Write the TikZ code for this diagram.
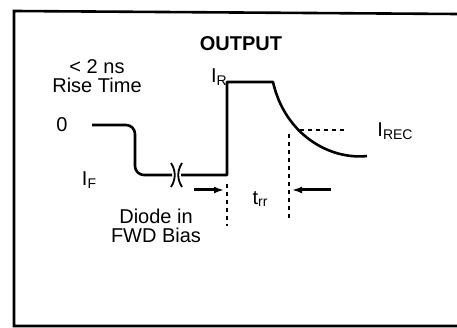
\documentclass[tikz,border=0pt]{standalone}
\usepackage{fontspec}
\setmainfont{Liberation Sans}
\usetikzlibrary{arrows.meta, positioning, calc}
\newcommand{\lbsub}[1]{\raisebox{-2.5pt}{\fontsize{14}{14}\selectfont #1}}
\tikzset{
  lbl/.style={inner sep=0pt, align=center, font=\fontsize{20}{19}\selectfont},
  titlelbl/.style={lbl, font=\fontsize{20}{20}\selectfont\bfseries},
  frameline/.style={line width=2.6pt},
  wave/.style={line width=2.6pt, line join=round},
  guide/.style={line width=2.2pt, dash pattern=on 4pt off 4pt},
  timearrow/.style={-{Latex[length=10pt,width=7pt]}, line width=3pt}
}
\begin{document}
\begin{tikzpicture}[x=1pt, y=-1pt]
  \useasboundingbox (0,0) rectangle (457,328);

  % ── Frame ──
  \draw[frameline] (457,14) -- (14,11) -- (14,326) -- (457,326);

  % ── Labels ──
  \node[titlelbl] (output) at (241,44) {OUTPUT};
  \node[lbl] (rise) at (97,76) {< 2 ns\\Rise Time};
  \node[lbl] (zero) at (62,125) {0};
  \node[lbl] (iforw) at (89,180) {I\lbsub{F}};
  \node[lbl] (irev) at (219,77) {I\lbsub{R}};
  \node[lbl] (irec) at (395,131) {I\lbsub{REC}};
  \node[lbl] (diode) at (156,226) {Diode in\\FWD Bias};
  \node[lbl] (trr) at (260,199) {t\lbsub{rr}};

  % ── Waveform points ──
  \coordinate (w0) at (92,125);
  \coordinate (w1) at (135,125);
  \coordinate (w2) at (135,175);
  \coordinate (brkL) at (172,175);
  \coordinate (brkR) at (181,175);
  \coordinate (edge) at (227,175);
  \coordinate (peak) at (227,82);
  \coordinate (fall) at (273,82);
  \coordinate (tail) at (367,156);

  % ── Waveform ──
  \draw[wave, rounded corners=9pt] (w0) -- (w1) -- (w2) -- (brkL);
  \draw[wave] (brkR) -- (edge) -- (peak) -- (fall)
      .. controls (285,135) and (330,160) .. (tail);
  % break marks
  \draw[line width=1.8pt] ($(brkL)+(-1,-12)$) .. controls ($(brkL)+(4,-4)$) and ($(brkL)+(4,4)$) .. ($(brkL)+(-1,12)$);
  \draw[line width=1.8pt] ($(brkR)+(1,-12)$) .. controls ($(brkR)+(-4,-4)$) and ($(brkR)+(-4,4)$) .. ($(brkR)+(1,12)$);

  % ── Guides ──
  \coordinate (recL) at (300,130);
  \coordinate (recR) at (344,130);
  \draw[guide] (recL) -- (recR);
  \coordinate (gA1) at (227,184);
  \coordinate (gA2) at (227,226);
  \draw[guide] (gA1) -- (gA2);
  \coordinate (gB1) at (289,134);
  \coordinate (gB2) at (289,218);
  \draw[guide] (gB1) -- (gB2);

  % ── Arrows ──
  \coordinate (aL) at (194,190);
  \coordinate (aLtip) at (224,190);
  \coordinate (aR) at (331,190);
  \coordinate (aRtip) at (292,190);
  \draw[timearrow] (aL) -- (aLtip);
  \draw[timearrow] (aR) -- (aRtip);
\end{tikzpicture}
\end{document}
